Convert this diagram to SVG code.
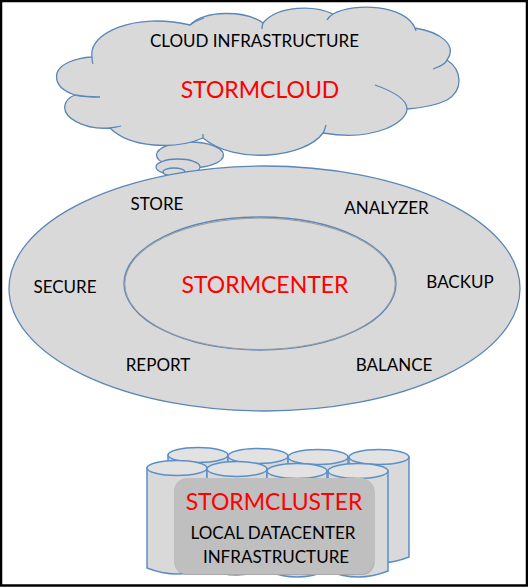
<svg xmlns="http://www.w3.org/2000/svg" width="528" height="587" viewBox="0 0 528 587">
<style>
.s{fill:#d9d9d9;stroke:#5b86b8;stroke-width:1.3}
.n{fill:none;stroke:#5b86b8;stroke-width:1.3}
.top{fill:#e2e2e2;stroke:#5b8fc8;stroke-width:1.5}
.body{fill:#d9d9d9;stroke:#5b8fc8;stroke-width:1.5}
text{font-family:"Lato","Open Sans","Liberation Sans",sans-serif;text-anchor:middle}
.b{font-size:17px;fill:#000}
.r{font-size:23px;fill:#ff0000}
</style>
<defs>
<g id="cyl"><path class="body" d="M-30 0V100Q0 112 30 100V0Z"/><ellipse class="top" cx="0" cy="0" rx="30" ry="7.5"/></g>
</defs>
<rect width="528" height="587" fill="#fff"/>
<g id="cloud">
<ellipse class="s" cx="190" cy="155" rx="33.5" ry="13"/>
<ellipse class="s" cx="178" cy="167" rx="22" ry="8"/>
<ellipse class="s" cx="174" cy="172" rx="11" ry="4"/>
<path class="s" d="M92 57C88 33 135 12 190 25C205 10 245 10 263 23C278 5 315 5 333 14C355 2 405 5 415 28C440 32 458 45 447 60C462 70 464 90 447 100C435 106 420 108 407 109C407 122 375 142 323 133C305 158 235 165 203 138C175 150 130 148 110 128C85 130 62 118 65 105C66 100 70 97 75 95C60 90 55 82 57 73C60 64 75 58 92 57Z"/>
<path class="n" d="M92 57C92 60 92 62 93 64M190 25C194 22 198 20 204 18M263 23C262 26 262 27 262 29M333 14C330 16 328 18 327 20M415 28C415 29 416 30 416 31M447 60C446 63 442 66 433 69M407 109C407 100 395 92 375 85M323 133C325 130 325 128 326 125M203 138C203 136 203 136 203 134M110 128C115 127 118 127 121 126M75 95C85 97 92 97 100 97"/>
</g>
<g id="stormcenter">
<ellipse class="s" cx="264.500" cy="288.500" rx="255.500" ry="122.500"/>
<ellipse class="n" cx="260" cy="283.500" rx="136" ry="66.500"/>
<ellipse cx="260" cy="283.800" rx="135.200" ry="65.700" fill="none" stroke="#9a9a9a" stroke-width="1"/>
</g>
<g id="cluster">
<use href="#cyl" x="198" y="455"/><use href="#cyl" x="258" y="456"/><use href="#cyl" x="318" y="457"/><use href="#cyl" x="379" y="457"/>
<use href="#cyl" x="177" y="468"/><use href="#cyl" x="237" y="469"/><use href="#cyl" x="297" y="471"/><use href="#cyl" x="358" y="471"/>
<rect x="174.500" y="479" width="200" height="96" rx="13" fill="#a8a8a8"/>
<rect x="174" y="478" width="200" height="96" rx="13" fill="#bfbfbf"/>
</g>
<g id="labels">
<text class="b" x="254.500" y="47">CLOUD INFRASTRUCTURE</text>
<text class="r" x="260" y="98">STORMCLOUD</text>
<text class="b" x="157" y="210">STORE</text>
<text class="b" x="386.500" y="214">ANALYZER</text>
<text class="b" x="65" y="293">SECURE</text>
<text class="b" x="460" y="288">BACKUP</text>
<text class="b" x="158" y="371">REPORT</text>
<text class="b" x="394" y="371">BALANCE</text>
<text class="r" x="265" y="293">STORMCENTER</text>
<text class="r" x="274" y="510">STORMCLUSTER</text>
<text class="b" x="273" y="539">LOCAL DATACENTER</text>
<text class="b" x="276" y="563">INFRASTRUCTURE</text>
</g>
<rect x="1" y="1" width="526" height="584.500" fill="none" stroke="#000" stroke-width="2.500"/>
</svg>
